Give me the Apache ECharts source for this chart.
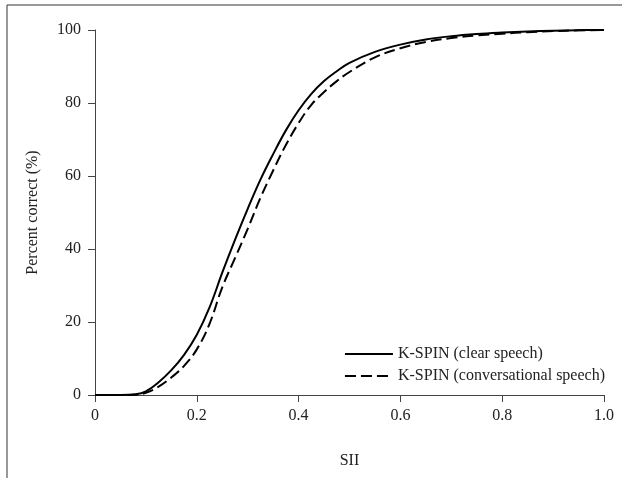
<!DOCTYPE html>
<html>
<head>
<meta charset="utf-8">
<script src="https://cdn.jsdelivr.net/npm/echarts@6/dist/echarts.min.js"></script>
<style>
  html, body { margin: 0; padding: 0; background: #ffffff; }
  #chart { width: 622px; height: 478px; }
</style>
</head>
<body>
<div id="chart"></div>
<script>
// SII values along the x axis
var sii = [0, 0.05, 0.08, 0.1, 0.125, 0.15, 0.175, 0.2, 0.225, 0.25, 0.275, 0.3, 0.325, 0.35, 0.375,
  0.4, 0.425, 0.45, 0.475, 0.5, 0.55, 0.6, 0.65, 0.7, 0.75, 0.8, 0.85, 0.9, 0.95, 1.0]
// percent correct
var clearSpeech = [0, 0, 0.2, 1, 3.5, 6.8, 11, 16.5, 24, 33.5, 42.5, 51, 59, 66, 72.5,
  78, 82.5, 86, 88.7, 91, 94, 96, 97.4, 98.3, 98.9, 99.3, 99.6, 99.8, 99.95, 100]
var convSpeech = [0, 0, 0.1, 0.6, 2.3, 4.8, 8, 12.5, 19.5, 29.5, 37.5, 45.5, 54, 61.5, 68.5,
  74.5, 79.5, 83, 86, 88.5, 92.5, 95, 96.7, 97.8, 98.5, 99, 99.4, 99.7, 99.9, 100]
var xTicks = ['0', '0.2', '0.4', '0.6', '0.8', '1.0']
var seriesNames = ['K-SPIN (clear speech)', 'K-SPIN (conversational speech)']

function pairs (ys) {
  return sii.map(function (x, i) { return [x, ys[i]] })
}

var font = 'Liberation Serif'
var chart = echarts.init(document.getElementById('chart'))
chart.setOption({
  animation: false,
  textStyle: { fontFamily: font },
  grid: { left: 95, right: 18, top: 30, bottom: 83 },
  graphic: [
    { type: 'line', shape: { x1: 7, y1: 5, x2: 622, y2: 5 }, style: { stroke: '#777', lineWidth: 1.5 } },
    { type: 'line', shape: { x1: 7, y1: 5, x2: 7, y2: 478 }, style: { stroke: '#333', lineWidth: 1 } }
  ],
  legend: {
    orient: 'vertical',
    right: 12,
    top: 341,
    itemWidth: 48,
    itemHeight: 10,
    itemGap: 6,
    itemStyle: { opacity: 0 },
    textStyle: { fontFamily: font, fontSize: 16, color: '#222' },
    data: seriesNames
  },
  xAxis: {
    type: 'value',
    min: 0,
    max: 1,
    interval: 0.2,
    name: 'SII',
    nameLocation: 'middle',
    nameGap: 58,
    nameTextStyle: { fontFamily: font, fontSize: 16, color: '#222' },
    axisLine: { lineStyle: { color: '#444', width: 1 } },
    axisTick: { show: true, inside: false, length: 7, lineStyle: { color: '#444' } },
    splitLine: { show: false },
    axisLabel: {
      margin: 13,
      fontFamily: font,
      fontSize: 16,
      color: '#222',
      formatter: function (v) { return xTicks[Math.round(v / 0.2)] }
    }
  },
  yAxis: {
    type: 'value',
    min: 0,
    max: 100,
    interval: 20,
    name: 'Percent correct (%)',
    nameLocation: 'middle',
    nameGap: 54,
    nameTextStyle: { fontFamily: font, fontSize: 16, color: '#222' },
    axisLine: { show: true, lineStyle: { color: '#444', width: 1 } },
    axisTick: { show: true, length: 7, lineStyle: { color: '#444' } },
    splitLine: { show: false },
    axisLabel: { margin: 14, fontFamily: font, fontSize: 16, color: '#222' }
  },
  series: [
    {
      name: seriesNames[0],
      type: 'line',
      smooth: 0.4,
      symbol: 'none',
      data: pairs(clearSpeech),
      lineStyle: { color: '#000', width: 2 },
      itemStyle: { color: '#000' }
    },
    {
      name: seriesNames[1],
      type: 'line',
      smooth: 0.4,
      symbol: 'none',
      data: pairs(convSpeech),
      lineStyle: { color: '#000', width: 2, type: [11, 5] },
      itemStyle: { color: '#000' }
    }
  ]
})
</script>
</body>
</html>
